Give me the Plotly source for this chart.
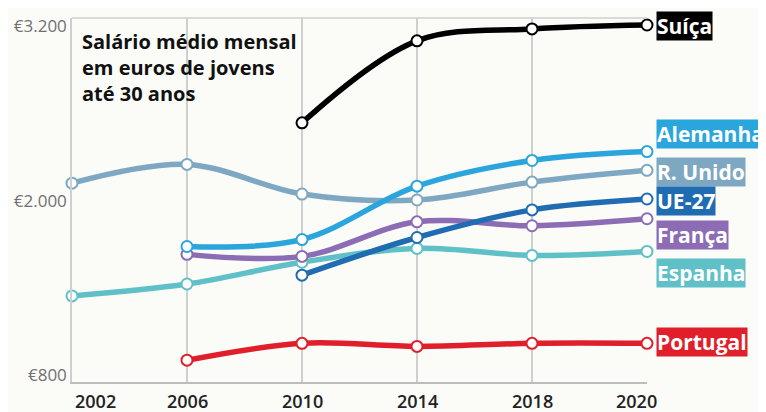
import plotly.graph_objects as go

years = ["2002", "2006", "2010", "2014", "2018", "2020"]

suica = [None, None, 2535, 3099, 3181, 3208]
alemanha = [None, 1684, 1732, 2099, 2276, 2337]
r_unido = [2120, 2249, 2045, 2004, 2127, 2208]
ue27 = [None, None, 1487, 1746, 1936, 2011]
franca = [None, 1630, 1616, 1854, 1827, 1875]
espanha = [1344, 1426, 1576, 1671, 1623, 1650]
portugal = [None, 902, 1018, 997, 1018, 1018]

names = ["Suíça", "Alemanha", "R. Unido", "UE-27", "França", "Espanha", "Portugal"]
series = [suica, alemanha, r_unido, ue27, franca, espanha, portugal]
colors = ["#000000", "#2aa6dd", "#7ea8c2", "#1f6cb2", "#8c6cb4", "#5fc1c7", "#e01f2b"]
label_y = [3201, 2460, 2195, 1997, 1766, 1501, 1024]

y_ticks = [800, 2000, 3200]
y_ticktext = ["€800", "€2.000", "€3.200"]
year_label_shift = [23, 0, 0, 0, 0, -11]

title_text = "Salário médio mensal<br>em euros de jovens<br>até 30 anos"

fig = go.Figure()
draw_order = [2, 5, 6, 4, 3, 1, 0]
for i in draw_order:
    xs = [y for y, v in zip(years, series[i]) if v is not None]
    vs = [v for v in series[i] if v is not None]
    fig.add_trace(go.Scatter(
        x=xs, y=vs, mode="lines+markers", name=names[i],
        line=dict(color=colors[i], width=5.5, shape="spline", smoothing=1),
        marker=dict(size=11, color="white", line=dict(color=colors[i], width=2)),
        cliponaxis=False, showlegend=False, hoverinfo="skip"))

for n, c, ly in zip(names, colors, label_y):
    fig.add_annotation(
        x=1, xref="paper", y=ly, yref="y", xanchor="left", yanchor="middle",
        xshift=9, text="<b>" + n + "</b>", showarrow=False,
        font=dict(family="Open Sans", size=21, color="white"),
        bgcolor=c, borderpad=0)

for k, (yr, sh) in enumerate(zip(years, year_label_shift)):
    fig.add_annotation(
        x=k, xref="x", y=0, yref="paper", xanchor="center", yanchor="middle",
        xshift=sh, yshift=-19, text=yr, showarrow=False,
        font=dict(family="Open Sans", size=18, color="#222222", weight=600))

fig.add_annotation(
    x=0, xref="paper", y=1, yref="paper", xanchor="left", yanchor="middle",
    xshift=8, yshift=-49,
    text="<b>" + title_text + "</b>", showarrow=False, align="left",
    font=dict(family="Open Sans", size=20, color="#111111"))

fig.add_shape(type="line", xref="paper", yref="paper", x0=0, x1=1, y0=1, y1=1,
              line=dict(color="#cfcfcf", width=1.5))

fig.update_layout(
    width=766, height=412,
    margin=dict(l=62, r=127, t=6, b=38),
    paper_bgcolor="#fbfbf8", plot_bgcolor="#fbfbf8",
    xaxis=dict(type="category", range=[0, 5], showgrid=True, gridcolor="#cfcfcf", gridwidth=1.5,
               showline=True, linecolor="#bdbdbd", linewidth=1.5, ticks="",
               showticklabels=False, zeroline=False),
    yaxis=dict(range=[752, 3256], showgrid=False, zeroline=False,
               tickvals=y_ticks, ticktext=y_ticktext, ticks="",
               showline=True, linecolor="#cfcfcf", linewidth=1.5,
               tickfont=dict(family="Open Sans", size=17, color="#707070")),
)

fig.write_html("out.html")
